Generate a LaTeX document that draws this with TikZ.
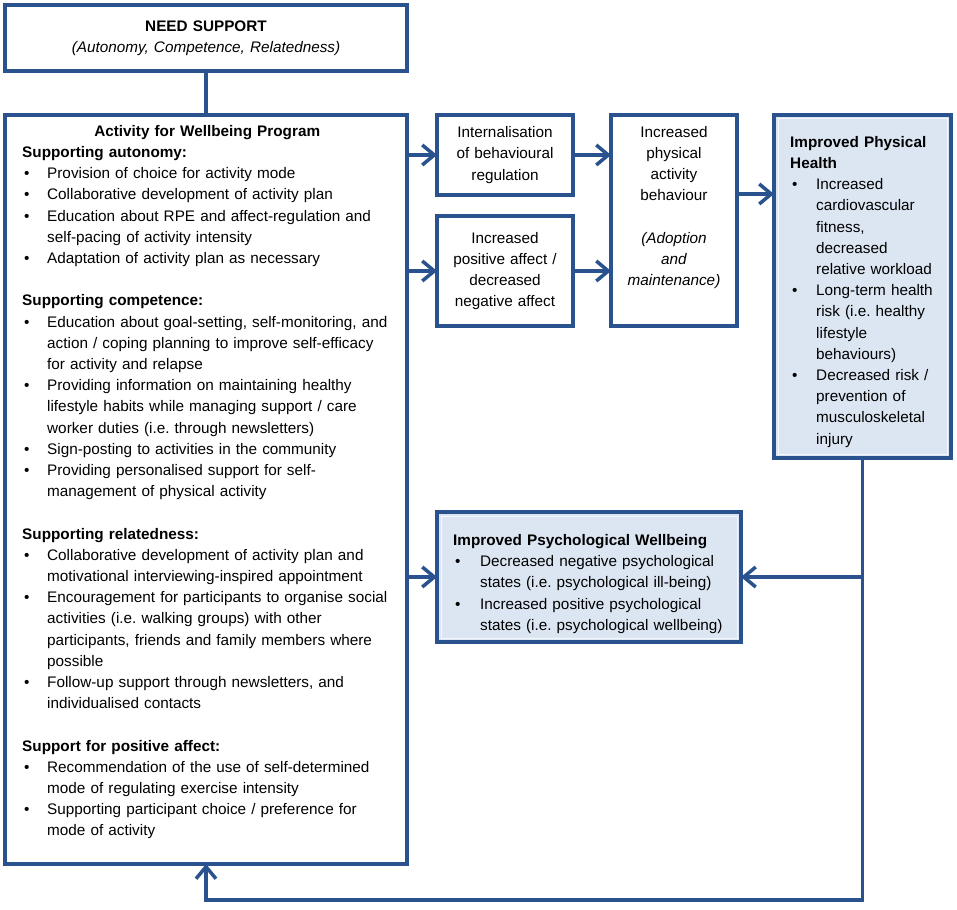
\documentclass[tikz,border=0pt]{standalone}
\usepackage{fontspec}
\setmainfont{Liberation Sans}
\usetikzlibrary{arrows.meta}
\definecolor{frame}{RGB}{41,82,142}
\definecolor{shade}{RGB}{220,230,242}
\setlength{\parindent}{0pt}
\frenchspacing
\newcommand{\hd}[1]{\par\noindent\textbf{#1}}
\newcommand{\blk}{\par\vspace{\baselineskip}}
\newcommand{\bul}[1][25pt]{\par\hangindent=#1\hangafter=1\noindent\makebox[#1][l]{\hspace{2pt}\textbullet}\ignorespaces}

\begin{document}
\begin{tikzpicture}[x=1pt,y=-1pt,
    every node/.style={font=\fontsize{15.3}{21.2}\selectfont, inner sep=0pt},
    box/.style={draw=frame, line width=3.5pt, fill=white, outer sep=0pt, anchor=north west},
    shadebox/.style={box, fill=shade},
    arr/.style={draw=frame, line width=3.5pt, -{Straight Barb[length=12pt,width=20pt]}},
    link/.style={draw=frame, line width=3.5pt}]
    \useasboundingbox (0,0) rectangle (957,909);
    % boxes
    \node[box, minimum width=402pt, minimum height=66pt, text width=390pt, align=center] (need) at (5,5)
        {\textbf{NEED SUPPORT}\\\textit{(Autonomy, Competence, Relatedness)}};
    \node[box, minimum width=402pt, minimum height=749pt] (prog) at (5,115) {};
    \node[box, minimum width=136pt, minimum height=80pt, text width=130pt, align=center] (intern) at (437,115)
        {Internalisation\\of behavioural\\regulation};
    \node[box, minimum width=136pt, minimum height=110pt, text width=130pt, align=center] (posaff) at (437,216)
        {Increased\\positive affect /\\decreased\\negative affect};
    \node[box, minimum width=126pt, minimum height=211pt] (pa) at (611,115) {};
    \node[shadebox, minimum width=177pt, minimum height=343pt] (health) at (774,115) {};
    \node[shadebox, minimum width=304pt, minimum height=130pt] (psych) at (437,512) {};
    \draw[white, line width=1pt, opacity=0.7] ([shift={(4,4)}]health.north west) rectangle ([shift={(-4,-4)}]health.south east);
    \draw[white, line width=1pt, opacity=0.7] ([shift={(4,4)}]psych.north west) rectangle ([shift={(-4,-4)}]psych.south east);
    % texts
    \node[anchor=north west, text width=370pt, align=left] (progtxt) at ([shift={(17,10)}]prog.north west) {%
        {\centering\textbf{Activity for Wellbeing Program}\par}
        \hd{Supporting autonomy:}
        \bul Provision of choice for activity mode
        \bul Collaborative development of activity plan
        \bul Education about RPE and affect-regulation and\newline self-pacing of activity intensity
        \bul Adaptation of activity plan as necessary
        \blk
        \hd{Supporting competence:}
        \bul Education about goal-setting, self-monitoring, and\newline action / coping planning to improve self-efficacy\newline for activity and relapse
        \bul Providing information on maintaining healthy\newline lifestyle habits while managing support / care\newline worker duties (i.e. through newsletters)
        \bul Sign-posting to activities in the community
        \bul Providing personalised support for self-\newline management of physical activity
        \blk
        \hd{Supporting relatedness:}
        \bul Collaborative development of activity plan and\newline motivational interviewing-inspired appointment
        \bul Encouragement for participants to organise social\newline activities (i.e. walking groups) with other\newline participants, friends and family members where\newline possible
        \bul Follow-up support through newsletters, and\newline individualised contacts
        \blk
        \hd{Support for positive affect:}
        \bul Recommendation of the use of self-determined\newline mode of regulating exercise intensity
        \bul Supporting participant choice / preference for\newline mode of activity\par};
    \node[anchor=north, text width=120pt, align=center] (patxt) at ([yshift=-11pt]pa.north)
        {Increased\\physical\\activity\\behaviour\\[21.2pt]\textit{(Adoption}\\\textit{and}\\\textit{maintenance)}};
    \node[anchor=north west, text width=158pt, align=left] (healthtxt) at ([shift={(16,11)}]health.north west) {%
        \hd{Improved Physical\newline Health}
        \bul[26pt] Increased\newline cardiovascular\newline fitness,\newline decreased\newline relative workload
        \bul[26pt] Long-term health\newline risk (i.e. healthy\newline lifestyle\newline behaviours)
        \bul[26pt] Decreased risk /\newline prevention of\newline musculoskeletal\newline injury\par};
    \node[anchor=north west, text width=280pt, align=left] (psychtxt) at ([shift={(16,12)}]psych.north west) {%
        \hd{Improved Psychological Wellbeing}
        \bul[27pt] Decreased negative psychological\newline states (i.e. psychological ill-being)
        \bul[27pt] Increased positive psychological\newline states (i.e. psychological wellbeing)\par};
    % connectors
    \draw[link] (need) -- (prog);
    \draw[arr] (intern.west -| prog.east) -- (intern.west);
    \draw[arr] (posaff.west -| prog.east) -- (posaff.west);
    \draw[arr] (intern.east) -- (intern.east -| pa.west);
    \draw[arr] (posaff.east) -- (posaff.east -| pa.west);
    \draw[arr] ([yshift=26.5pt]pa.east) -- ([yshift=26.5pt]pa.east -| health.west);
    \draw[arr] (psych.east -| health.south) -- (psych.east);
    \draw[arr] (psych.west -| prog.east) -- (psych.west);
    \draw[arr] (health.south) |- ([yshift=-36pt]prog.south) -- (prog.south);
\end{tikzpicture}
\end{document}
